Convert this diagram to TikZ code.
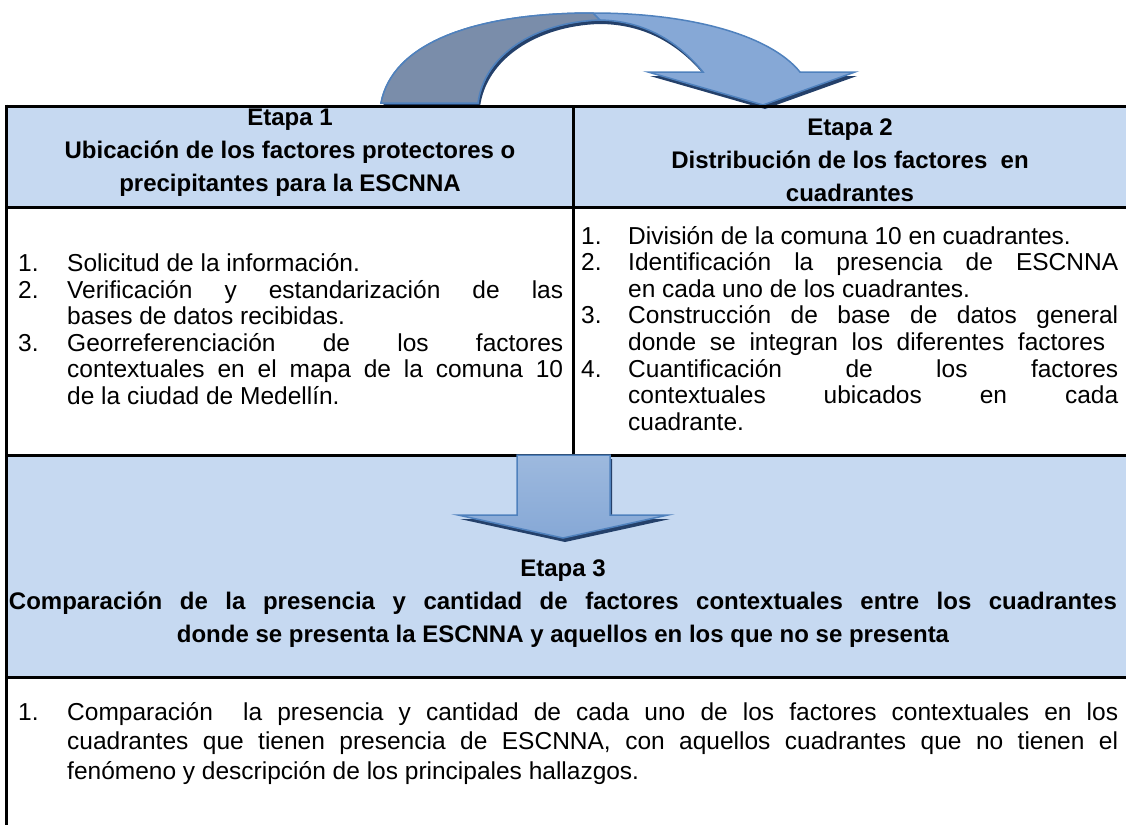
\documentclass[tikz,border=0pt]{standalone}
\usepackage{fontspec}
\setmainfont{Liberation Sans}
\definecolor{cellblue}{HTML}{C6D9F1}
\definecolor{arrowline}{HTML}{4F81BD}
\definecolor{arrowmid}{HTML}{4F81BD}
\definecolor{arrowlight}{HTML}{86A8D6}
\definecolor{arrowpale}{HTML}{9DB9DE}
\definecolor{arrowgrey}{HTML}{7A8DAA}
\definecolor{arrowshadow}{HTML}{24406A}
\newcommand\itm[2]{\hangindent=#1\hangafter=1\noindent\makebox[#1][l]{#2}}
\tolerance=10000 \hbadness=10000
\begin{document}
\begin{tikzpicture}[x=1pt,y=-1pt,
  rule/.style={line width=3pt,black},
  hd/.style={font=\bfseries\fontsize{24}{33}\selectfont,align=center,inner sep=0pt,anchor=base},
  bd/.style={font=\fontsize{24.5}{26.6}\selectfont,align=justify,inner sep=0pt,anchor=base west},
  arrowbody/.style={draw=arrowline,line width=1.5pt,top color=arrowlight,middle color=arrowmid,bottom color=arrowlight},
  downbody/.style={draw=arrowline,line width=1.5pt,top color=arrowpale,middle color=arrowmid,bottom color=arrowlight},
  arrowshade/.style={fill=arrowshadow}]
\useasboundingbox (0,0) rectangle (1126,825);

% row fills
\fill[cellblue] (6,106) rectangle (1126,207);
\fill[cellblue] (6,455) rectangle (1126,677);

% curved arrow (top)
\fill[arrowshade,shift={(2,4)}] (381,103) .. controls (392,45) and (470,13) .. (593,13)
  .. controls (690,13) and (770,35) .. (800,72) -- (855,72) -- (763,105) -- (648,72) -- (703,72)
  .. controls (675,38) and (640,20) .. (597,20) .. controls (535,22) and (484,55) .. (478,103) -- cycle;
\path[arrowbody] (381,103) .. controls (392,45) and (470,13) .. (593,13)
  .. controls (690,13) and (770,35) .. (800,72) -- (855,72) -- (763,105) -- (648,72) -- (703,72)
  .. controls (675,38) and (640,20) .. (597,20) .. controls (535,22) and (484,55) .. (478,103) -- cycle;
\path[fill=arrowgrey,draw=arrowline,line width=1.5pt] (381,103) .. controls (392,45) and (470,13) .. (593,13)
  -- (600,20) .. controls (535,22) and (484,55) .. (478,103) -- cycle;

% table rules
\draw[rule] (6,106) -- (1126,106);
\draw[rule] (6,207) -- (1126,207);
\draw[rule] (6,455) -- (1126,455);
\draw[rule] (6,677) -- (1126,677);
\draw[rule] (6,104.5) -- (6,825);
\draw[rule] (573,106) -- (573,455);

% down arrow
\fill[arrowshade,shift={(2,4)}] (517,455) -- (610,455) -- (610,515) -- (668,515) -- (563,538) -- (458,515) -- (517,515) -- cycle;
\path[downbody] (517,455) -- (610,455) -- (610,515) -- (668,515) -- (563,538) -- (458,515) -- (517,515) -- cycle;

% headers (anchor = baseline of last line)
\node[hd] (h1) at (290,191.5) {Etapa 1\\Ubicación de los factores protectores o\\precipitantes para la ESCNNA};
\node[hd] (h2) at (850,201.5) {Etapa 2\\Distribución de los factores\ \ en\\cuadrantes};

% body left (anchor = baseline of first line)
\node[bd,text width=545pt] (b1) at (18,271.5) {%
\itm{49pt}{1.}Solicitud de la información.\par
\itm{49pt}{2.}Verificación y estandarización de las\linebreak bases de datos recibidas.\par
\itm{49pt}{3.}Georreferenciación de los factores\linebreak contextuales en el mapa de la comuna 10\linebreak de la ciudad de Medellín.\par};

% body right
\node[bd,text width=537pt] (b2) at (581,244) {%
\itm{47pt}{1.}División de la comuna 10 en cuadrantes.\par
\itm{47pt}{2.}Identificación la presencia de ESCNNA\linebreak en cada uno de los cuadrantes.\par
\itm{47pt}{3.}Construcción de base de datos general\linebreak donde se integran los diferentes factores\hspace*{13pt}{\parfillskip=0pt\par}
\itm{47pt}{4.}Cuantificación de los factores\linebreak contextuales ubicados en cada\linebreak cuadrante.\par};

% etapa 3
\node[hd] (h3) at (563,642) {Etapa 3\\\makebox[1108pt][s]{Comparación de la presencia y cantidad de factores contextuales entre los cuadrantes}\\donde se presenta la ESCNNA y aquellos en los que no se presenta};

% bottom
\node[bd,font=\fontsize{24.5}{29.5}\selectfont,text width=1100pt] (b3) at (18,720) {%
\itm{49pt}{1.}Comparación\ \ la presencia y cantidad de cada uno de los factores contextuales en los\linebreak cuadrantes que tienen presencia de ESCNNA, con aquellos cuadrantes que no tienen el\linebreak fenómeno y descripción de los principales hallazgos.\par};
\end{tikzpicture}
\end{document}
